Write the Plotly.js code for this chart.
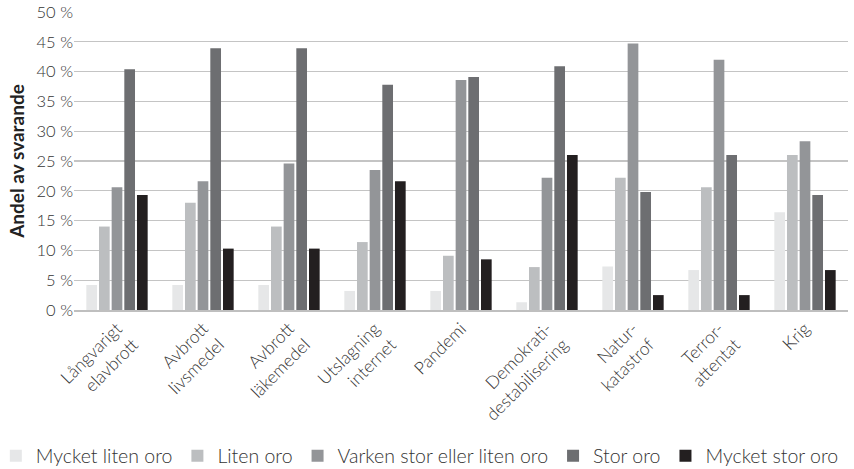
<!DOCTYPE html>
<html>
<head>
<meta charset="utf-8">
<script src="https://cdn.plot.ly/plotly-3.0.1.min.js"></script>
<style>html,body{margin:0;padding:0;background:#fff;}#chart{width:854px;height:469px;}</style>
</head>
<body>
<div id="chart"></div>
<script>
const categories = ["Långvarigt<br>elavbrott", "Avbrott<br>livsmedel", "Avbrott<br>läkemedel", "Utslagning<br>internet", "Pandemi", "Demokrati-<br>destabilisering", "Natur-<br>katastrof", "Terror-<br>attentat", "Krig"];
const seriesNames = ["Mycket liten oro", "Liten oro", "Varken stor eller liten oro", "Stor oro", "Mycket stor oro"];
const mycketLitenOro = [4.2, 4.2, 4.2, 3.2, 3.2, 1.3, 7.3, 6.7, 16.4];
const litenOro = [14.0, 18.0, 14.0, 11.4, 9.1, 7.2, 22.2, 20.6, 26.0];
const varkenOro = [20.6, 21.6, 24.6, 23.5, 38.6, 22.2, 44.7, 42.0, 28.3];
const storOro = [40.4, 43.9, 43.9, 37.8, 39.1, 40.9, 19.8, 26.0, 19.3];
const mycketStorOro = [19.3, 10.3, 10.3, 21.6, 8.5, 26.0, 2.5, 2.5, 6.7];
const yTicks = [0, 5, 10, 15, 20, 25, 30, 35, 40, 45, 50];
const yTickLabels = ["0 %", "5 %", "10 %", "15 %", "20 %", "25 %", "30 %", "35 %", "40 %", "45 %", "50 %"];

const colors = ["#e6e7e8", "#bcbec0", "#939598", "#6d6e71", "#231f20"];
const values = [mycketLitenOro, litenOro, varkenOro, storOro, mycketStorOro];
const FONT = "Lato, 'Open Sans', sans-serif";

const traces = values.map((v, i) => ({
  type: "bar",
  name: seriesNames[i],
  x: categories,
  y: v,
  marker: {color: colors[i], line: {width: 0}},
  hoverinfo: "x+y+name"
}));

const layout = {
  width: 854, height: 469,
  margin: {l: 74, r: 6, t: 12, b: 159, autoexpand: false},
  paper_bgcolor: "#fff", plot_bgcolor: "#fff",
  font: {family: FONT, color: "#333", size: 16, weight: 300},
  barmode: "group",
  bargap: 0.264,
  bargroupgap: 0.155,
  showlegend: true,
  legend: {
    orientation: "h",
    xref: "paper", x: -0.101, xanchor: "left",
    yref: "paper", y: -0.49, yanchor: "middle",
    font: {family: FONT, size: 19.5, color: "#333", weight: 300},
    tracegroupgap: 0,
    traceorder: "normal", itemclick: false
  },
  xaxis: {
    tickangle: -45,
    tickfont: {family: FONT, size: 17.5, color: "#333", weight: 300},
    showgrid: false, showline: true, linecolor: "#bfbfbf", linewidth: 1.5,
    ticks: "", automargin: false
  },
  yaxis: {
    range: [0, 50],
    tickmode: "array",
    tickvals: yTicks,
    ticktext: yTickLabels,
    tickfont: {family: FONT, size: 16.5, color: "#333", weight: 300},
    showgrid: true, gridcolor: "#c4c4c4", gridwidth: 1.3,
    zeroline: false, showline: false, ticks: "",
    automargin: false,
    title: {text: "<b>Andel av svarande</b>", font: {family: FONT, size: 19, color: "#222", weight: 700}, standoff: 6}
  }
};

Plotly.newPlot("chart", traces, layout, {displayModeBar: false, staticPlot: true});
</script>
</body>
</html>
